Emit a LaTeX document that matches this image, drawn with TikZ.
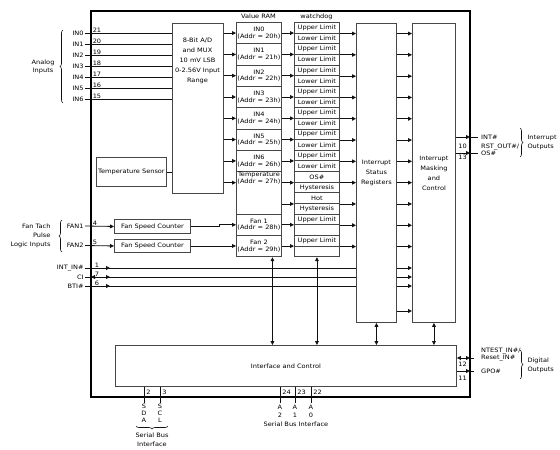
\documentclass[tikz,border=0pt]{standalone}
\usepackage{fontspec}
\setmainfont{DejaVu Sans}[FakeStretch=1.1]
\usetikzlibrary{arrows.meta, positioning, decorations.pathreplacing, calc}
\definecolor{Ink}{HTML}{111111}
\definecolor{Frame}{HTML}{474747}

\begin{document}
\begin{tikzpicture}[
  x=1pt, y=-1pt,
  font=\fontsize{6}{7}\selectfont,
  box/.style={draw=Frame, line width=0.9pt, fill=white, inner sep=0pt, align=center, anchor=north west},
  cell/.style={box, minimum width=45pt, minimum height=21.3pt, font=\fontsize{6}{6.6}\selectfont},
  half/.style={box, minimum width=45pt, minimum height=10.65pt},
  tall/.style={box, minimum height=299pt, font=\fontsize{6}{10}\selectfont},
  wire/.style={draw=Ink, line width=0.8pt},
  arrow/.style={wire, -{Triangle[length=4pt, width=3.8pt]}},
  biarrow/.style={wire, {Triangle[length=4pt, width=3.8pt]}-{Triangle[length=4pt, width=3.8pt]}},
  pinno/.style={inner sep=0.6pt, anchor=south west},
  sig/.style={inner sep=1.2pt, anchor=east},
  outsig/.style={inner sep=1pt, anchor=west, align=left, font=\fontsize{6}{7.5}\selectfont},
  curly/.style={decorate, decoration={brace, amplitude=3pt}, draw=Ink, line width=0.6pt}
]
\useasboundingbox (0,0) rectangle (560,450);

% chip outline
\node[draw=black, line width=2.6pt, outer sep=0pt, inner sep=0pt, anchor=north west,
      minimum width=379pt, minimum height=386pt] (chip) at (91,11) {};

% converter, sensor, interrupt blocks
\node[box, minimum width=51pt, minimum height=170pt] (adc) at (172,23) {};
\node[font=\fontsize{6}{10}\selectfont, align=center] (adctxt) at (197.5,61)
  {8-Bit A/D\\and MUX\\10 mV LSB\\0-2.56V Input\\Range};
\node[box, minimum width=70pt, minimum height=29pt] (tsens) at (96,157) {Temperature Sensor};
\draw[wire] (tsens.east) -- (tsens.east -| adc.west);
\node[tall, minimum width=40pt] (isr) at (356,23) {Interrupt\\Status\\Registers};
\node[tall, minimum width=43pt] (imc) at (412,23) {Interrupt\\Masking\\and\\Control};
\node[box, minimum width=341pt, minimum height=41pt] (ifc) at (115,345) {Interface and Control};

% analog inputs
\foreach \i/\p in {0/21,1/20,2/19,3/18,4/17,5/16,6/15} {
  \coordinate (pIN\i) at (85,33+11*\i);
  \draw[wire] (pIN\i) -- (pIN\i -| adc.west);
  \node[pinno] (nIN\i) at (92,33+11*\i) {\p};
  \node[sig] (lIN\i) at (pIN\i) {IN\i};
}
\draw[curly] (63,103) -- (63,30);
\node[anchor=east, align=center, font=\fontsize{6}{8}\selectfont] (tAnalog) at (58,67) {Analog\\Inputs};

% value RAM and watchdog
\node[inner sep=1pt] (tRAM) at (258.5,16.5) {Value RAM};
\node[inner sep=1pt] (tWD) at (316.5,16.5) {watchdog};
\foreach \i/\a in {0/20,1/21,2/22,3/23,4/24,5/25,6/26} {
  \node[cell] (ram\i) at (236,22+21.3*\i) {IN\i\\(Addr = \a h)};
  \node[half] (wdU\i) at (294,22+21.3*\i) {Upper Limit};
  \node[half] (wdL\i) at (294,32.65+21.3*\i) {Lower Limit};
  \draw[arrow] (adc.east |- ram\i.west) -- (ram\i.west);
  \draw[arrow] (ram\i.east) -- (ram\i.east -| wdU\i.west);
  \draw[arrow] (wdU\i.south east) -- (wdU\i.south east -| isr.west);
  \draw[arrow] (isr.east |- wdU\i.south) -- (imc.west |- wdU\i.south);
}
\node[cell, minimum height=42.6pt] (ramT) at (236,171.1) {};
\node[anchor=north, inner sep=1pt, align=center, font=\fontsize{6}{6.6}\selectfont] (tTemp) at (ramT.north)
  {Temperature\\(Addr = 27h)};
\node[half] (wdOS) at (294,171.1) {OS\#};
\node[half] (wdH1) at (294,181.75) {Hysteresis};
\node[half] (wdHot) at (294,192.4) {Hot};
\node[half] (wdH2) at (294,203.05) {Hysteresis};
\node[cell] (ramF1) at (236,213.7) {Fan 1\\(Addr = 28h)};
\node[cell] (ramF2) at (236,235) {Fan 2\\(Addr = 29h)};
\node[half] (wdF1) at (294,213.7) {Upper Limit};
\node[half] (wdF1b) at (294,224.35) {};
\node[half] (wdF2) at (294,235) {Upper Limit};
\node[half] (wdF2b) at (294,245.65) {};

\draw[arrow] (adc.east |- wdOS.south) -- (ramT.west |- wdOS.south);
\draw[arrow] (ramT.east |- wdOS.south) -- (wdOS.south west);
\draw[arrow] (ramT.east |- wdHot.south) -- (wdHot.south west);
\draw[arrow] (ramF1.east) -- (ramF1.east -| wdF1.west);
\draw[arrow] (ramF2.east) -- (ramF2.east -| wdF2.west);
\foreach \w in {wdOS, wdHot, wdF1, wdF2} {
  \draw[arrow] (\w.south east) -- (\w.south east -| isr.west);
  \draw[arrow] (isr.east |- \w.south) -- (imc.west |- \w.south);
}
\coordinate (yExtra) at (400,311);
\draw[arrow] (isr.east |- yExtra) -- (imc.west |- yExtra);

% fan tach inputs
\node[box, minimum width=76pt, minimum height=14pt] (fsc1) at (114,219) {Fan Speed Counter};
\node[box, minimum width=76pt, minimum height=13pt] (fsc2) at (114,239) {Fan Speed Counter};
\coordinate (pFAN1) at (85,226);
\coordinate (pFAN2) at (85,245.5);
\draw[arrow] (pFAN1) -- (fsc1.west);
\draw[arrow] (pFAN2) -- (fsc2.west);
\node[pinno] (nFAN1) at (92,226) {4};
\node[pinno] (nFAN2) at (92,245.5) {5};
\node[sig] (lFAN1) at (pFAN1) {FAN1};
\node[sig] (lFAN2) at (pFAN2) {FAN2};
\draw[arrow] (fsc1.east) -- ++(28,0) |- (ramF1.west);
\draw[arrow] (fsc2.east) -- (fsc2.east -| ramF2.west);
\draw[curly] (62,252) -- (62,220);
\node[anchor=east, align=right, font=\fontsize{6}{9}\selectfont] (tFanTach) at (54,236) {Fan Tach\\Pulse\\Logic Inputs};

% control inputs
\foreach \n/\y/\p in {INTIN/268/1, CI/277/7, BTI/286/6} {
  \coordinate (p\n) at (85,\y);
  \draw[wire] (p\n) -- (p\n -| isr.west);
  \draw[arrow] (p\n) -- ++(25,0);
  \draw[arrow] (isr.east |- p\n) -- (imc.west |- p\n);
  \node[pinno] (n\n) at (94,\y) {\p};
}
\draw[arrow] ([xshift=15pt]pCI) -- (chip.west |- pCI);
\node[sig] (lINTIN) at (pINTIN) {INT\_IN\#};
\node[sig] (lCI) at (pCI) {CI};
\node[sig] (lBTI) at (pBTI) {BTI\#};

% interrupt outputs
\coordinate (pINT) at (478,137);
\coordinate (pRST) at (478,153);
\foreach \o in {pINT, pRST} {
  \draw[arrow] (imc.east |- \o) -- (chip.east |- \o);
  \draw[wire] (chip.east |- \o) -- (\o);
}
\node[inner sep=0.5pt] (n10) at (462.5,146) {10};
\node[inner sep=0.5pt] (n13) at (462.5,157.5) {13};
\node[outsig] (lINT) at (480,137) {INT\#};
\node[outsig] (lRST) at (480,150) {RST\_OUT\#/\\OS\#};
\draw[curly] (520,128) -- (520,157);
\node[anchor=west, align=left, font=\fontsize{6}{9}\selectfont] (tIntOut) at (524,142) {Interrupt\\Outputs};

% links to interface
\draw[biarrow] ([xshift=13.5pt]ramF2.south) -- ([xshift=13.5pt]ramF2.south |- ifc.north);
\draw[biarrow] (wdF2b.south) -- (wdF2b.south |- ifc.north);
\draw[biarrow] (isr.south) -- (isr.south |- ifc.north);
\draw[biarrow] (imc.south) -- (imc.south |- ifc.north);

% digital outputs
\coordinate (pNTEST) at (474,358);
\coordinate (pGPO) at (474,371);
\draw[biarrow] (ifc.east |- pNTEST) -- (chip.east |- pNTEST);
\draw[wire] (chip.east |- pNTEST) -- (pNTEST);
\draw[arrow] (ifc.east |- pGPO) -- (chip.east |- pGPO);
\draw[wire] (chip.east |- pGPO) -- (pGPO);
\node[inner sep=0.5pt] (n12) at (462.5,364.5) {12};
\node[inner sep=0.5pt] (n11) at (462.5,378) {11};
\node[outsig] (lNTEST) at (480,354.5) {NTEST\_IN\#/\\Reset\_IN\#};
\node[outsig] (lGPO) at (480,371) {GPO\#};
\draw[curly] (520,350) -- (520,379);
\node[anchor=west, align=left, font=\fontsize{6}{9}\selectfont] (tDigOut) at (524,365) {Digital\\Outputs};

% serial bus pins
\foreach \n/\x/\p in {SDA/144/2, SCL/160/3, A2/280/24, A1/295/23, A0/311/22} {
  \coordinate (p\n) at (\x,403);
  \draw[wire] (ifc.south -| p\n) -- (p\n);
  \node[pinno] (n\n) at (\x+1.5,395) {\p};
}
\node[below=0.5pt of pSDA, align=center, inner sep=0.5pt] (lSDA) {S\\D\\A};
\node[below=0.5pt of pSCL, align=center, inner sep=0.5pt] (lSCL) {S\\C\\L};
\node[below=1pt of pA2, align=center, inner sep=0.5pt, font=\fontsize{6}{8}\selectfont] (lA2) {A\\2};
\node[below=1pt of pA1, align=center, inner sep=0.5pt, font=\fontsize{6}{8}\selectfont] (lA1) {A\\1};
\node[below=1pt of pA0, align=center, inner sep=0.5pt, font=\fontsize{6}{8}\selectfont] (lA0) {A\\0};
\node[inner sep=0.5pt] (tSBI) at (296,424.5) {Serial Bus Interface};
\draw[curly] (168,426) -- (136,426);
\node[align=center, font=\fontsize{6}{8.5}\selectfont] (tSBI2) at (152,440) {Serial Bus\\Interface};
\end{tikzpicture}
\end{document}
